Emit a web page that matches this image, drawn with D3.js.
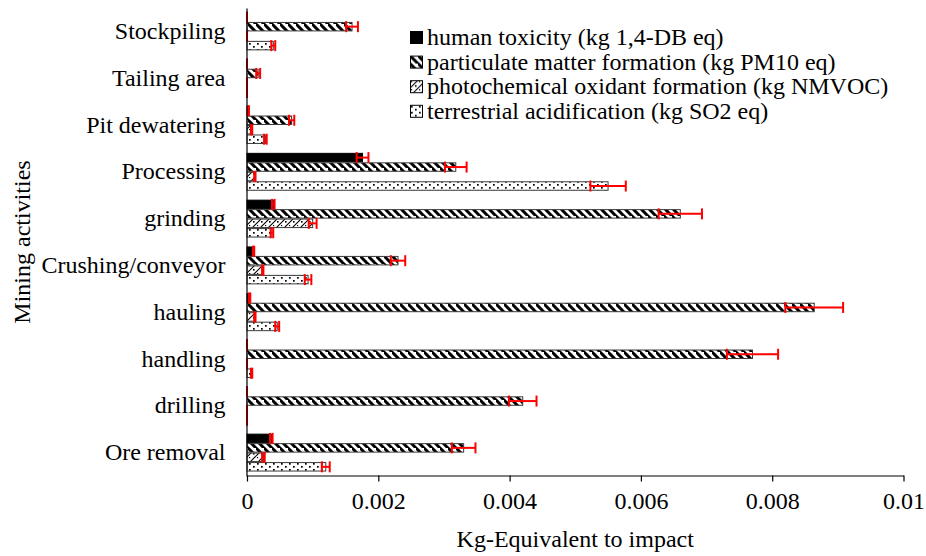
<!DOCTYPE html>
<html>
<head>
<meta charset="utf-8">
<script src="https://cdn.jsdelivr.net/npm/d3@7/dist/d3.min.js"></script>
<style>
  html, body { margin: 0; padding: 0; background: #fff; }
  svg { display: block; }
  svg text { font-family: "Liberation Serif", "Times New Roman", Times, serif; }
</style>
</head>
<body>
<svg id="chart" width="926" height="556"></svg>
<script>
// Mining activities, top to bottom
const categories = ["Stockpiling", "Tailing area", "Pit dewatering", "Processing", "grinding",
  "Crushing/conveyor", "hauling", "handling", "drilling", "Ore removal"];

const seriesNames = [
  "human toxicity (kg 1,4-DB eq)",
  "particulate matter formation (kg PM10 eq)",
  "photochemical oxidant formation (kg NMVOC)",
  "terrestrial acidification (kg SO2 eq)"
];

// Impact values (kg-equivalent) per activity, with error margins
const humanToxicity      = [0, 0, 0.00002, 0.00176, 0.0004, 0.0001, 0.00004, 0, 0, 0.00037];
const humanToxicityErr   = [0, 0, 0.00001, 0.00009, 0.00002, 0.00001, 0.00001, 0, 0, 0.00002];
const particulateMatter    = [0.0016, 0.00017, 0.00068, 0.00318, 0.0066, 0.0023, 0.00864, 0.0077, 0.0042, 0.0033];
const particulateMatterErr = [0.00009, 0.00003, 0.00004, 0.000165, 0.00033, 0.00011, 0.00044, 0.00039, 0.00021, 0.00018];
const photochemical    = [0, 0, 0.00007, 0.00012, 0.001, 0.00024, 0.00012, 0, 0, 0.00025];
const photochemicalErr = [0, 0, 0.00001, 0.00001, 0.00006, 0.00001, 0.00001, 0, 0, 0.00002];
const terrestrial    = [0.0004, 0, 0.00028, 0.0055, 0.00038, 0.00093, 0.00046, 0.00007, 0, 0.0012];
const terrestrialErr = [0.00003, 0, 0.00002, 0.00027, 0.00002, 0.00005, 0.00003, 0.00001, 0, 0.00006];

const xTicks = [0, 0.002, 0.004, 0.006, 0.008, 0.01];
const xTickLabels = ["0", "0.002", "0.004", "0.006", "0.008", "0.01"];

const xTitle = "Kg-Equivalent to impact";
const yTitle = "Mining activities";

const seriesValues = [humanToxicity, particulateMatter, photochemical, terrestrial];
const seriesErrors = [humanToxicityErr, particulateMatterErr, photochemicalErr, terrestrialErr];
const fills = ["#000", "url(#pat-pm)", "url(#pat-photo)", "url(#pat-dots)"];

const svg = d3.select("#chart");
const plot = { left: 247, right: 903.5, top: 8, bottom: 476 };

// ---- fill patterns ----
const defs = svg.append("defs");
const pm = defs.append("pattern").attr("id", "pat-pm")
  .attr("patternUnits", "userSpaceOnUse").attr("width", 8).attr("height", 8);
pm.append("rect").attr("width", 8).attr("height", 8).attr("fill", "#fff");
pm.append("path").attr("d", "M-2,-2 L10,10 M-6,2 L2,10 M6,-6 L14,2")
  .attr("stroke", "#000").attr("stroke-width", 3);

const photo = defs.append("pattern").attr("id", "pat-photo")
  .attr("patternUnits", "userSpaceOnUse").attr("width", 8).attr("height", 8);
photo.append("rect").attr("width", 8).attr("height", 8).attr("fill", "#fff");
photo.append("path").attr("d", "M-2,10 L10,-2 M-6,6 L6,-6 M2,14 L14,2")
  .attr("stroke", "#000").attr("stroke-width", 1.1);
photo.append("rect").attr("x", 5).attr("y", 5).attr("width", 1.6).attr("height", 1.6).attr("fill", "#000");
photo.append("rect").attr("x", 1).attr("y", 1).attr("width", 1.2).attr("height", 1.2).attr("fill", "#000");

const dots = defs.append("pattern").attr("id", "pat-dots")
  .attr("patternUnits", "userSpaceOnUse").attr("width", 8).attr("height", 6);
dots.append("rect").attr("width", 8).attr("height", 6).attr("fill", "#fff");
dots.append("rect").attr("x", 1).attr("y", 1).attr("width", 1.7).attr("height", 1.7).attr("fill", "#000");
dots.append("rect").attr("x", 5).attr("y", 4).attr("width", 1.7).attr("height", 1.7).attr("fill", "#000");

// ---- scales ----
const x = d3.scaleLinear().domain([0, 0.01]).range([plot.left, plot.right]);
const y = d3.scaleBand().domain(categories).range([plot.top, plot.bottom])
  .paddingInner(0.19).paddingOuter(0.095);
const ySub = d3.scaleBand().domain(d3.range(seriesNames.length)).range([0, y.bandwidth()]);

// ---- bars ----
const barData = [];
categories.forEach((c, i) => {
  seriesValues.forEach((vals, s) => {
    barData.push({ cat: c, s, v: vals[i], e: seriesErrors[s][i] });
  });
});

const gBars = svg.append("g");
gBars.selectAll("rect").data(barData.filter(d => d.v > 0)).join("rect")
  .attr("x", x(0))
  .attr("y", d => y(d.cat) + ySub(d.s) + 0.5)
  .attr("width", d => x(d.v) - x(0))
  .attr("height", ySub.bandwidth() - 1)
  .attr("fill", d => fills[d.s])
  .attr("stroke", d => d.s === 0 ? "#000" : "#3a3a3a")
  .attr("stroke-width", 1);

// ---- error bars ----
const gErr = svg.append("g").attr("stroke", "#ff0000").attr("stroke-width", 2).attr("fill", "none");
barData.forEach(d => {
  const cy = y(d.cat) + ySub(d.s) + ySub.bandwidth() / 2;
  const x0 = x(Math.max(0, d.v - d.e)), x1 = x(d.v + d.e);
  const h = 5.5;
  gErr.append("line").attr("x1", x0).attr("x2", x1).attr("y1", cy).attr("y2", cy);
  gErr.append("line").attr("x1", x0).attr("x2", x0).attr("y1", cy - h).attr("y2", cy + h);
  gErr.append("line").attr("x1", x1).attr("x2", x1).attr("y1", cy - h).attr("y2", cy + h);
});

// ---- axes ----
const xAxis = d3.axisBottom(x).tickValues(xTicks)
  .tickFormat((d, i) => xTickLabels[i]).tickSize(6).tickSizeOuter(0).tickPadding(10);
const gx = svg.append("g").attr("transform", `translate(0,${plot.bottom - 0.5})`).call(xAxis);
gx.attr("font-family", null);
gx.select(".domain").attr("stroke", "#000").attr("stroke-width", 1.2);
gx.selectAll(".tick line").attr("stroke", "#000").attr("stroke-width", 1.2);
gx.selectAll(".tick text").attr("font-size", 24).attr("fill", "#000");

const yAxis = d3.axisLeft(y).tickSize(0).tickSizeOuter(0).tickPadding(21);
const gy = svg.append("g").attr("transform", `translate(${plot.left - 0.5},0)`).call(yAxis);
gy.attr("font-family", null);
gy.select(".domain").attr("stroke", "#000").attr("stroke-width", 1.2);
gy.selectAll(".tick text").attr("font-size", 24).attr("fill", "#000");

// ---- axis titles ----
svg.append("text")
  .attr("x", (plot.left + plot.right) / 2).attr("y", 547)
  .attr("text-anchor", "middle").attr("font-size", 24).attr("fill", "#000")
  .text(xTitle);
svg.append("text")
  .attr("transform", `translate(30,${(plot.top + plot.bottom) / 2}) rotate(-90)`)
  .attr("text-anchor", "middle").attr("font-size", 24).attr("fill", "#000")
  .text(yTitle);

// ---- legend ----
const legend = svg.append("g").attr("transform", "translate(410,31)");
seriesNames.forEach((name, i) => {
  const row = legend.append("g").attr("transform", `translate(0,${i * 24.6})`);
  row.append("rect").attr("x", 0.5).attr("y", 0.5).attr("width", 12).attr("height", 12)
    .attr("fill", fills[i]).attr("stroke", "#000").attr("stroke-width", 1);
  row.append("text").attr("x", 17).attr("y", 14).attr("font-size", 24).attr("fill", "#000")
    .text(name);
});
</script>
</body>
</html>
